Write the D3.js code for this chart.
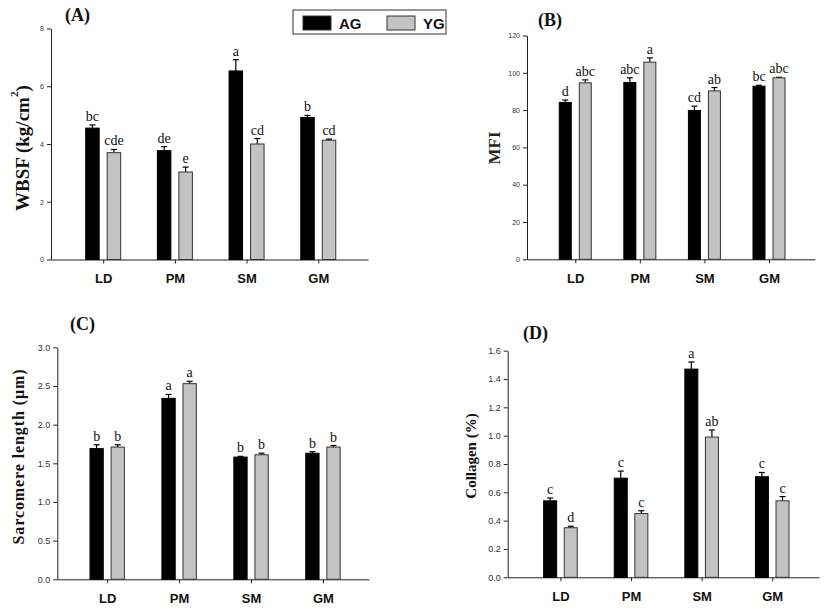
<!DOCTYPE html>
<html><head><meta charset="utf-8">
<script src="https://cdn.jsdelivr.net/npm/d3@7"></script>
<style>body{margin:0;background:#fff}</style>
</head><body><svg id="c" width="827" height="615"></svg>
<script>
// ---------- DATA ----------
const categories = ["LD", "PM", "SM", "GM"];
const seriesNames = ["AG", "YG"];

// (A) WBSF (kg/cm2)
const wbsfAG = [4.55, 3.77, 6.53, 4.92];
const wbsfAGErr = [0.11, 0.14, 0.39, 0.07];
const wbsfYG = [3.70, 3.03, 4.00, 4.13];
const wbsfYGErr = [0.11, 0.17, 0.19, 0.04];
const wbsfAGLetters = ["bc", "de", "a", "b"];
const wbsfYGLetters = ["cde", "e", "cd", "cd"];
const wbsfTicks = [0, 2, 4, 6, 8];

// (B) MFI
const mfiAG = [84.1, 94.8, 79.8, 92.8];
const mfiAGErr = [1.3, 2.5, 2.3, 0.5];
const mfiYG = [94.6, 105.7, 90.3, 97.3];
const mfiYGErr = [1.6, 2.3, 1.8, 0.3];
const mfiAGLetters = ["d", "abc", "cd", "bc"];
const mfiYGLetters = ["abc", "a", "ab", "abc"];
const mfiTicks = [0, 20, 40, 60, 80, 100, 120];

// (C) Sarcomere length (um)
const slAG = [1.69, 2.34, 1.58, 1.63];
const slAGErr = [0.05, 0.05, 0.01, 0.02];
const slYG = [1.71, 2.53, 1.61, 1.71];
const slYGErr = [0.03, 0.03, 0.02, 0.02];
const slAGLetters = ["b", "a", "b", "b"];
const slYGLetters = ["b", "a", "b", "b"];
const slTicks = [0, 0.5, 1.0, 1.5, 2.0, 2.5, 3.0];

// (D) Collagen (%)
const colAG = [0.54, 0.70, 1.47, 0.71];
const colAGErr = [0.02, 0.05, 0.05, 0.03];
const colYG = [0.35, 0.45, 0.99, 0.54];
const colYGErr = [0.01, 0.02, 0.05, 0.03];
const colAGLetters = ["c", "c", "a", "c"];
const colYGLetters = ["d", "c", "ab", "c"];
const colTicks = [0, 0.2, 0.4, 0.6, 0.8, 1.0, 1.2, 1.4, 1.6];

// ---------- LAYOUT ----------
const panels = [
  {ag: wbsfAG, agErr: wbsfAGErr, yg: wbsfYG, ygErr: wbsfYGErr, agL: wbsfAGLetters, ygL: wbsfYGLetters,
   ticks: wbsfTicks, fmt: d3.format("d"), title: "(A)",
   x0: 51, x1: 368, yTop: 28.5, yBot: 259.5, pad: 0.711, align: 0.512, bw: 13.5, hg: 4,
   tickFont: 7, titleX: 65, titleY: 21,
   ylab: {x: 22, y: 148, size: 19, text: "WBSF (kg/cm", sup: "2", after: ")", color: "#111"}},
  {ag: mfiAG, agErr: mfiAGErr, yg: mfiYG, ygErr: mfiYGErr, agL: mfiAGLetters, ygL: mfiYGLetters,
   ticks: mfiTicks, fmt: d3.format("d"), title: "(B)",
   x0: 527, x1: 815, yTop: 35.5, yBot: 259.3, pad: 0.73, align: 0.512, bw: 12, hg: 4,
   tickFont: 7, titleX: 538, titleY: 26,
   ylab: {x: 494, y: 148, size: 17, text: "MFI", color: "#2a2418"}},
  {ag: slAG, agErr: slAGErr, yg: slYG, ygErr: slYGErr, agL: slAGLetters, ygL: slYGLetters,
   ticks: slTicks, fmt: d3.format(".1f"), title: "(C)",
   x0: 57.3, x1: 369, yTop: 347.3, yBot: 579.3, pad: 0.667, align: 0.52, bw: 13.3, hg: 3.9,
   tickFont: 9, titleX: 70, titleY: 330,
   ylab: {x: 18.5, y: 457, size: 16, text: "Sarcomere length (\u03bcm)", len: 175, color: "#111"}},
  {ag: colAG, agErr: colAGErr, yg: colYG, ygErr: colYGErr, agL: colAGLetters, ygL: colYGLetters,
   ticks: colTicks, fmt: d3.format(".1f"), title: "(D)",
   x0: 507.7, x1: 819, yTop: 350.7, yBot: 577.3, pad: 0.705, align: 0.53, bw: 13, hg: 3.8,
   tickFont: 9, titleX: 523, titleY: 339,
   ylab: {x: 471, y: 456, size: 15, text: "Collagen (%)", color: "#111"}}
];

const svg = d3.select("#c");
const colors = {AG: "#000000", YG: "#c3c3c3"};
const serif = "'Liberation Serif','Times New Roman',serif";
const sans = "'Liberation Sans',Arial,sans-serif";

panels.forEach(p => {
  const g = svg.append("g");
  const x = d3.scalePoint().domain(categories).range([p.x0, p.x1]).padding(p.pad).align(p.align);
  const y = d3.scaleLinear().domain([p.ticks[0], p.ticks[p.ticks.length - 1]]).range([p.yBot, p.yTop]);

  // axes
  const ya = g.append("g").attr("transform", `translate(${p.x0},0)`)
    .call(d3.axisLeft(y).tickValues(p.ticks).tickFormat(p.fmt).tickSize(4).tickSizeOuter(0).tickPadding(3));
  ya.select(".domain").attr("stroke", "#222");
  ya.selectAll(".tick line").attr("stroke", "#222");
  ya.selectAll(".tick text").attr("font-family", sans).attr("font-size", p.tickFont).attr("fill", "#333");

  const xa = g.append("g").attr("transform", `translate(0,${p.yBot})`)
    .call(d3.axisBottom(x).tickSize(4).tickSizeOuter(0).tickPadding(10));
  xa.select(".domain").attr("stroke", "#222");
  xa.selectAll(".tick line").attr("stroke", "#222");
  xa.selectAll(".tick text").attr("font-family", sans).attr("font-size", 13)
    .attr("font-weight", "bold").attr("fill", "#111");

  const series = [
    {name: "AG", vals: p.ag, err: p.agErr, lets: p.agL, off: -p.hg - p.bw},
    {name: "YG", vals: p.yg, err: p.ygErr, lets: p.ygL, off: p.hg}
  ];
  series.forEach(s => {
    const data = categories.map((c, i) => ({c, v: s.vals[i], e: s.err[i], l: s.lets[i]}));
    const cx = d => x(d.c) + s.off + p.bw / 2;
    // error bars (upper only)
    g.selectAll(null).data(data).enter().append("line")
      .attr("x1", cx).attr("x2", cx)
      .attr("y1", d => y(d.v)).attr("y2", d => y(d.v + d.e))
      .attr("stroke", "#000").attr("stroke-width", 1.2);
    g.selectAll(null).data(data).enter().append("line")
      .attr("x1", d => cx(d) - 3).attr("x2", d => cx(d) + 3)
      .attr("y1", d => y(d.v + d.e)).attr("y2", d => y(d.v + d.e))
      .attr("stroke", "#000").attr("stroke-width", 1.2);
    // bars
    g.selectAll(null).data(data).enter().append("rect")
      .attr("x", d => x(d.c) + s.off).attr("width", p.bw)
      .attr("y", d => y(d.v)).attr("height", d => y(0) - y(d.v))
      .attr("fill", colors[s.name]).attr("stroke", s.name === "AG" ? "#000" : "#333").attr("stroke-width", 1);
    // letters
    g.selectAll(null).data(data).enter().append("text")
      .attr("x", cx).attr("y", d => y(d.v + d.e) - 4)
      .attr("text-anchor", "middle").attr("font-family", serif).attr("font-size", 14)
      .attr("fill", "#111").text(d => d.l);
  });

  // panel title
  g.append("text").attr("x", p.titleX).attr("y", p.titleY)
    .attr("font-family", serif).attr("font-weight", "bold").attr("font-size", 18)
    .attr("fill", "#111").text(p.title);

  // y label
  const yl = g.append("text")
    .attr("transform", `translate(${p.ylab.x},${p.ylab.y}) rotate(-90)`)
    .attr("text-anchor", "middle").attr("dominant-baseline", "central")
    .attr("font-family", serif).attr("font-weight", "bold").attr("font-size", p.ylab.size)
    .attr("fill", p.ylab.color);
  if (p.ylab.sup) {
    yl.append("tspan").text(p.ylab.text);
    yl.append("tspan").attr("font-size", p.ylab.size * 0.6).attr("dy", -p.ylab.size * 0.4).text(p.ylab.sup);
    yl.append("tspan").attr("dy", p.ylab.size * 0.4).text(p.ylab.after);
  } else {
    yl.text(p.ylab.text);
    if (p.ylab.len) yl.attr("textLength", p.ylab.len).attr("lengthAdjust", "spacing");
  }
});

// legend
const lg = svg.append("g");
lg.append("rect").attr("x", 293).attr("y", 10).attr("width", 153).attr("height", 24)
  .attr("fill", "#fff").attr("stroke", "#333").attr("stroke-width", 1);
const legendX = [303, 387];
seriesNames.forEach((n, i) => {
  lg.append("rect").attr("x", legendX[i]).attr("y", 16).attr("width", 28).attr("height", 14)
    .attr("fill", colors[n]).attr("stroke", "#333").attr("stroke-width", 1);
  lg.append("text").attr("x", legendX[i] + 36).attr("y", 28.5)
    .attr("font-family", sans).attr("font-weight", "bold").attr("font-size", 15)
    .attr("fill", "#111").text(n);
});
</script>
</body></html>
